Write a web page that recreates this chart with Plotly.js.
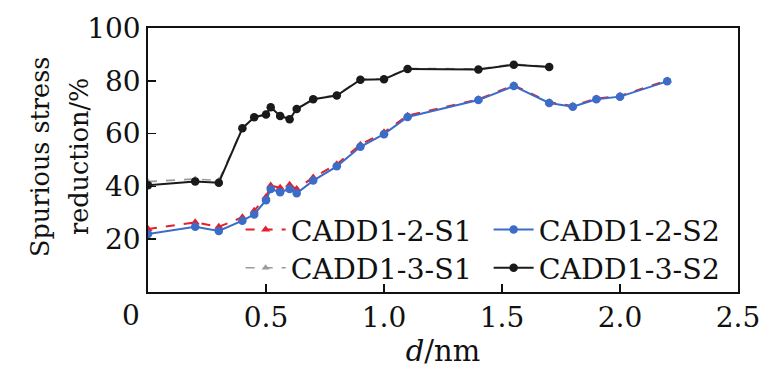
<!DOCTYPE html>
<html>
<head>
<meta charset="utf-8">
<script src="https://cdn.plot.ly/plotly-3.0.1.min.js"></script>
<style>html,body{margin:0;padding:0;background:#fff;}#chart{width:781px;height:390px;}</style>
</head>
<body>
<div id="chart"></div>
<script>
// d / nm for each series
const d12 = [0, 0.2, 0.3, 0.4, 0.45, 0.5, 0.52, 0.56, 0.6, 0.63, 0.7, 0.8, 0.9, 1.0, 1.1, 1.4, 1.55, 1.7, 1.8, 1.9, 2.0, 2.2];
const cadd12S1 = [23.9, 26.4, 24.7, 28.3, 30.8, 36.0, 40.3, 39.5, 40.6, 39.0, 43.4, 48.4, 55.8, 60.5, 66.8, 73.0, 78.3, 71.9, 70.5, 73.3, 74.3, 80.1];
const cadd12S2 = [22.0, 24.7, 23.1, 27.0, 29.4, 34.8, 39.0, 37.8, 39.0, 37.4, 42.2, 47.6, 55.0, 59.8, 66.3, 72.7, 78.0, 71.6, 70.2, 73.0, 74.0, 79.8];
const d13 = [0, 0.2, 0.3, 0.4, 0.45, 0.5, 0.52, 0.56, 0.6, 0.63, 0.7, 0.8, 0.9, 1.0, 1.1, 1.4, 1.55, 1.7];
const cadd13S1 = [41.8, 42.8, 42.2, 62.2, 66.4, 67.4, 70.2, 66.9, 65.6, 69.5, 73.2, 74.6, 80.6, 80.8, 84.7, 84.5, 86.3, 85.4];
const cadd13S2 = [40.4, 41.9, 41.4, 62.0, 66.2, 67.2, 70.0, 66.7, 65.4, 69.3, 73.0, 74.4, 80.4, 80.6, 84.5, 84.3, 86.1, 85.2];
const names = ['CADD1-2-S1', 'CADD1-2-S2', 'CADD1-3-S1', 'CADD1-3-S2'];
const xTickVals = [0.5, 1.0, 1.5, 2.0, 2.5];
const xTickText = ['0.5', '1.0', '1.5', '2.0', '2.5'];
const yTickVals = [20, 40, 60, 80, 100];
const yTickText = ['20', '40', '60', '80', '100'];
const yTitleLines = ['Spurious stress', 'reduction/%'];

const FONT = 'DejaVu Serif';
const TICK_FS = 28;
const LEG_FS = 28.5;
const YT_FS = 25.5;
const XT_FS = 29;
const INK = '#111';

const traces = [
  {x: d13, y: cadd13S1, name: names[2], mode: 'lines+markers', legend: 'legend2',
   line: {color: '#9a9a9a', width: 1.6, dash: 'dash'},
   marker: {symbol: 'triangle-up', size: 7, color: '#9a9a9a'}},
  {x: d13, y: cadd13S2, name: names[3], mode: 'lines+markers', legend: 'legend2',
   line: {color: '#1a1a1a', width: 2}, marker: {symbol: 'circle', size: 8.5, color: '#1a1a1a'}},
  {x: d12, y: cadd12S1, name: names[0], mode: 'lines+markers', legend: 'legend',
   line: {color: '#e4202a', width: 2, dash: 'dash'},
   marker: {symbol: 'triangle-up', size: 8, color: '#e4202a'}},
  {x: d12, y: cadd12S2, name: names[1], mode: 'lines+markers', legend: 'legend',
   line: {color: '#3a6cc8', width: 2}, marker: {symbol: 'circle', size: 8.5, color: '#3a6cc8'}}
];

const legendCommon = {
  orientation: 'h', bgcolor: 'rgba(0,0,0,0)', borderwidth: 0,
  font: {family: FONT, size: LEG_FS, color: INK},
  xanchor: 'left', yanchor: 'middle', itemwidth: 40,
  entrywidth: 193, traceorder: 'normal', tracegroupgap: 0
};

const layout = {
  width: 781, height: 390,
  margin: {l: 148, r: 43, t: 28, b: 98},
  paper_bgcolor: '#fff', plot_bgcolor: '#fff',
  font: {family: FONT, size: TICK_FS, color: INK},
  showlegend: true,
  legend: Object.assign({}, legendCommon, {x: 0.157, y: 0.235}),
  legend2: Object.assign({}, legendCommon, {x: 0.157, y: 0.09}),
  xaxis: {
    range: [0, 2.5], tickvals: xTickVals, ticktext: xTickText,
    ticks: 'inside', ticklen: 8, tickwidth: 1.5, tickcolor: INK,
    showline: true, linecolor: INK, linewidth: 1.8, mirror: true,
    showgrid: false, zeroline: false,
    tickfont: {family: FONT, size: TICK_FS, color: INK},
    title: {text: '<i>d</i>/nm', font: {family: FONT, size: XT_FS, color: INK}, standoff: 4}
  },
  yaxis: {
    range: [0, 100], tickvals: yTickVals, ticktext: yTickText,
    ticks: 'inside', ticklen: 8, tickwidth: 1.5, tickcolor: INK,
    showline: true, linecolor: INK, linewidth: 1.8, mirror: true,
    showgrid: false, zeroline: false,
    tickfont: {family: FONT, size: TICK_FS, color: INK}
  },
  annotations: [
    {x: 0, y: 0, xref: 'x', yref: 'y', text: '0', showarrow: false,
     xshift: -17, yshift: -23, font: {family: FONT, size: TICK_FS, color: INK}},
    {x: 0, y: 0.5, xref: 'paper', yref: 'paper', text: yTitleLines[0], textangle: -90,
     showarrow: false, xanchor: 'center', yanchor: 'middle', xshift: -108, yshift: 3,
     font: {family: FONT, size: YT_FS, color: INK}},
    {x: 0, y: 0.5, xref: 'paper', yref: 'paper', text: yTitleLines[1], textangle: -90,
     showarrow: false, xanchor: 'center', yanchor: 'middle', xshift: -69, yshift: 3,
     font: {family: FONT, size: YT_FS, color: INK}}
  ]
};

Plotly.newPlot('chart', traces, layout, {displayModeBar: false, staticPlot: true});
</script>
</body>
</html>
